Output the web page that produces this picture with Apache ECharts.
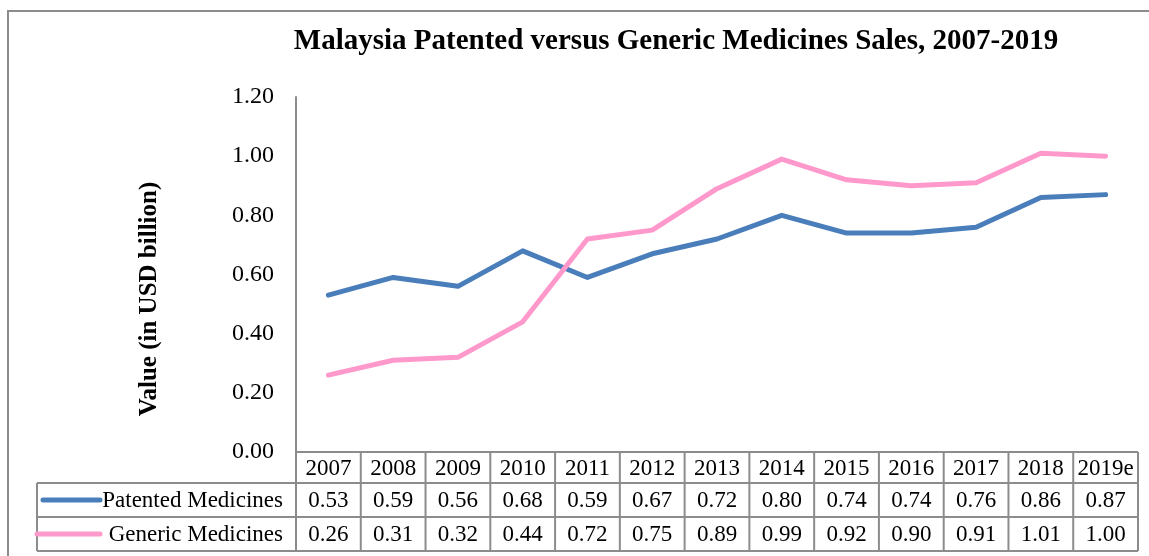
<!DOCTYPE html>
<html>
<head>
<meta charset="utf-8">
<script src="https://cdn.jsdelivr.net/npm/echarts@6/dist/echarts.min.js"></script>
<style>
  html, body { margin: 0; padding: 0; background: #fff; }
  #chart { width: 1149px; height: 556px; }
</style>
</head>
<body>
<div id="chart"></div>
<script>
// data
const years = ['2007', '2008', '2009', '2010', '2011', '2012', '2013', '2014', '2015', '2016', '2017', '2018', '2019e']
const patented = [0.53, 0.59, 0.56, 0.68, 0.59, 0.67, 0.72, 0.80, 0.74, 0.74, 0.76, 0.86, 0.87]
const generic = [0.26, 0.31, 0.32, 0.44, 0.72, 0.75, 0.89, 0.99, 0.92, 0.90, 0.91, 1.01, 1.00]
const seriesNames = ['Patented Medicines', 'Generic Medicines']
const seriesColors = ['#4a7ebb', '#ff99cc']

const font = '"Liberation Serif", "Times New Roman", serif'
const gridColor = '#8c8c8c'

const myChart = echarts.init(document.getElementById('chart'))

// grid box
const gLeft = 296, gRight = 11, gTop = 97, gBottom = 104

myChart.setOption({
  animation: false,
  title: {
    text: 'Malaysia Patented versus Generic Medicines Sales, 2007-2019',
    left: 671,
    top: 22,
    textAlign: 'center',
    textStyle: { fontFamily: font, fontWeight: 'bold', fontSize: 29, color: '#000' }
  },
  grid: { left: gLeft, right: gRight, top: gTop, bottom: gBottom },
  xAxis: {
    type: 'category',
    data: years,
    boundaryGap: true,
    axisLine: { show: false },
    axisTick: { show: false },
    axisLabel: { show: false }
  },
  yAxis: {
    type: 'value',
    min: 0,
    max: 1.2,
    interval: 0.2,
    axisLine: { show: true, lineStyle: { color: gridColor, width: 2 } },
    axisTick: { show: false },
    splitLine: { show: false },
    axisLabel: {
      fontFamily: font, fontSize: 24, color: '#000', margin: 22,
      formatter: v => v.toFixed(2)
    }
  },
  series: [patented, generic].map((d, i) => ({
    type: 'line',
    name: seriesNames[i],
    data: d,
    symbol: 'none',
    lineStyle: { color: seriesColors[i], width: 5, cap: 'round', join: 'round' }
  }))
})

// data table drawn under the plot, columns follow the category axis
function buildTable() {
  const els = []
  const colW = (1149 - gLeft - gRight) / years.length
  const rowY = [452, 483, 517, 551]
  const tableLeft = 37
  const tableRight = 1149 - gRight
  const line = (x1, y1, x2, y2) => ({
    type: 'line',
    shape: { x1, y1, x2, y2 },
    style: { stroke: gridColor, lineWidth: 2 }
  })
  const txt = (x, y, text, align) => ({
    type: 'text',
    x, y,
    style: { text, fontFamily: font, fontSize: 23, fill: '#000', align: align || 'center', verticalAlign: 'middle' }
  })

  // outer frame of the figure
  els.push({ type: 'rect', shape: { x: 8, y: 11, width: 1300, height: 700 }, style: { fill: 'none', stroke: gridColor, lineWidth: 2 } })

  // y axis title (sits a bit below the plot's middle)
  els.push({
    type: 'text',
    x: 150, y: 299,
    rotation: Math.PI / 2,
    style: { text: 'Value (in USD billion)', fontFamily: font, fontWeight: 'bold', fontSize: 25, fill: '#000', align: 'center', verticalAlign: 'middle' }
  })

  // horizontal lines
  els.push(line(gLeft, rowY[0], tableRight, rowY[0]))
  for (let r = 1; r < rowY.length; r++) els.push(line(tableLeft, rowY[r], tableRight, rowY[r]))
  // vertical lines
  els.push(line(tableLeft, rowY[1], tableLeft, rowY[3]))
  for (let c = 0; c <= years.length; c++) {
    const x = gLeft + c * colW
    els.push(line(x, rowY[0], x, rowY[3]))
  }

  years.forEach((y, i) => {
    const cx = myChart.convertToPixel({ xAxisIndex: 0 }, i)
    els.push(txt(cx, (rowY[0] + rowY[1]) / 2 + 1, y))
    els.push(txt(cx, (rowY[1] + rowY[2]) / 2 + 1, patented[i].toFixed(2)))
    els.push(txt(cx, (rowY[2] + rowY[3]) / 2 + 1, generic[i].toFixed(2)))
  })

  // legend keys inside the row headers
  const keyX = [[43, 100], [37, 100]]
  seriesNames.forEach((n, i) => {
    const cy = (rowY[i + 1] + rowY[i + 2]) / 2
    els.push({
      type: 'line',
      shape: { x1: keyX[i][0], y1: cy, x2: keyX[i][1], y2: cy },
      style: { stroke: seriesColors[i], lineWidth: 5, lineCap: 'round' }
    })
    els.push(txt(283, cy + 1, n, 'right'))
  })

  myChart.setOption({ graphic: els })
}
buildTable()
</script>
</body>
</html>
